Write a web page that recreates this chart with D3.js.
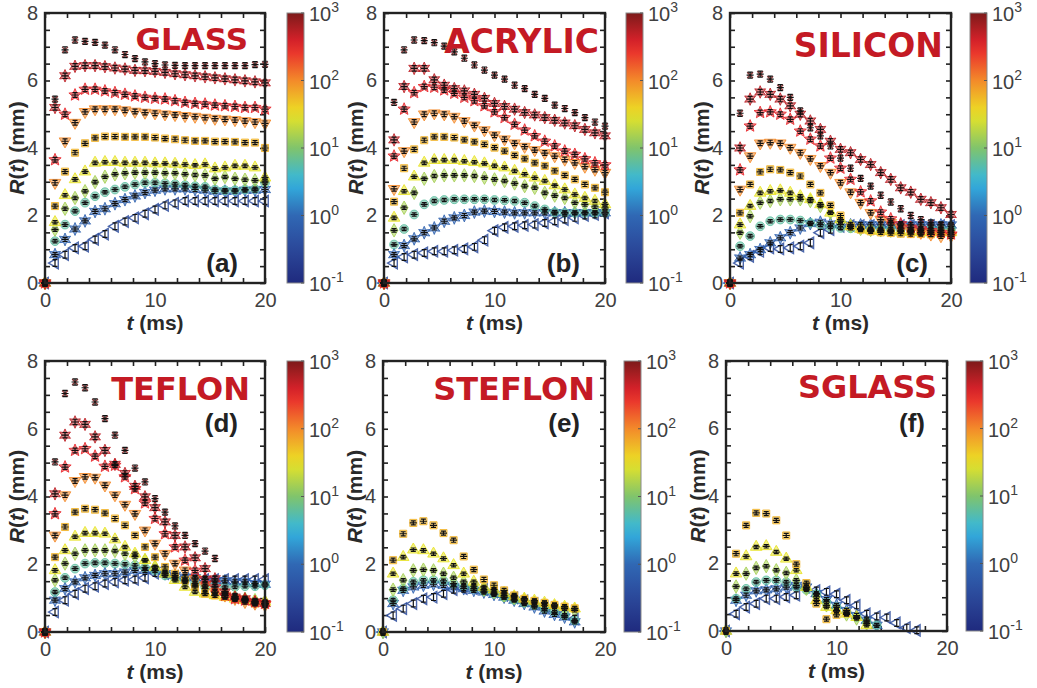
<!DOCTYPE html>
<html>
<head>
<meta charset="utf-8">
<script src="https://cdn.jsdelivr.net/npm/d3@7"></script>
<style>
  body { margin: 0; background: #fff; }
  svg { display: block; }
</style>
</head>
<body>
<script>
// frame times (ms), shared by every panel
const times = [0, 0.91, 1.82, 2.73, 3.64, 4.55, 5.45, 6.36, 7.27, 8.18, 9.09, 10,
  10.91, 11.82, 12.73, 13.64, 14.55, 15.45, 16.36, 17.27, 18.18, 19.09, 20];

// colour value of each series (colorbar units) and its error bar half-height (mm)
const seriesCa = [0.35, 0.8, 6, 15, 30, 60, 100, 300, 500, 1000];
const seriesErr = [0.1, 0.06, 0.05, 0.05, 0.05, 0.06, 0.07, 0.07, 0.08, 0.09];

// R(t) in mm, one row per series (lowest colour value first)
const glassR = [
  [0, 0.59, 0.84, 1.04, 1.09, 1.29, 1.45, 1.68, 1.82, 1.93, 2.05, 2.18, 2.3, 2.36, 2.43, 2.43, 2.43, 2.43, 2.43, 2.43, 2.43, 2.43, 2.43],
  [0, 0.84, 1.29, 1.6, 1.84, 2.12, 2.2, 2.35, 2.47, 2.58, 2.68, 2.75, 2.79, 2.79, 2.79, 2.77, 2.75, 2.72, 2.72, 2.72, 2.75, 2.75, 2.77],
  [0, 1.24, 1.73, 2.13, 2.38, 2.57, 2.69, 2.77, 2.85, 2.92, 2.97, 2.97, 2.95, 2.93, 2.9, 2.87, 2.85, 2.77, 2.75, 2.75, 2.77, 2.79, 2.97],
  [0, 1.58, 2.2, 2.52, 2.72, 2.99, 3.15, 3.22, 3.25, 3.27, 3.27, 3.27, 3.25, 3.25, 3.22, 3.2, 3.19, 3.09, 3.14, 3.09, 3.06, 3.04, 3.02],
  [0, 1.8, 2.6, 3.07, 3.3, 3.56, 3.58, 3.58, 3.56, 3.56, 3.56, 3.54, 3.54, 3.53, 3.51, 3.49, 3.51, 3.39, 3.42, 3.47, 3.47, 3.42, 3.12],
  [0, 2.28, 3.3, 3.86, 4.14, 4.3, 4.34, 4.34, 4.33, 4.33, 4.33, 4.31, 4.28, 4.26, 4.23, 4.21, 4.21, 4.19, 4.19, 4.18, 4.16, 4.16, 4.0],
  [0, 2.97, 4.2, 4.75, 5.07, 5.15, 5.15, 5.15, 5.12, 5.08, 5.05, 5.03, 5.0, 4.98, 4.95, 4.93, 4.9, 4.87, 4.85, 4.83, 4.8, 4.77, 4.73],
  [0, 3.65, 5.0, 5.57, 5.74, 5.74, 5.69, 5.64, 5.59, 5.54, 5.5, 5.47, 5.45, 5.4, 5.35, 5.32, 5.3, 5.27, 5.25, 5.23, 5.2, 5.2, 5.15],
  [0, 5.2, 6.14, 6.42, 6.44, 6.44, 6.41, 6.37, 6.34, 6.3, 6.29, 6.27, 6.24, 6.2, 6.17, 6.14, 6.11, 6.08, 6.05, 6.02, 5.99, 5.96, 5.93],
  [0, 5.45, 6.91, 7.2, 7.16, 7.13, 7.05, 6.91, 6.77, 6.65, 6.55, 6.5, 6.46, 6.45, 6.44, 6.44, 6.44, 6.44, 6.44, 6.44, 6.44, 6.47, 6.48]
];

const acrylicR = [
  [0, 0.59, 0.77, 0.84, 0.89, 0.94, 0.94, 0.97, 1.01, 1.07, 1.27, 1.55, 1.65, 1.68, 1.71, 1.73, 1.78, 1.83, 1.88, 1.93, 2.0, 2.03, 2.08],
  [0, 0.84, 1.11, 1.31, 1.49, 1.63, 1.83, 1.93, 2.0, 2.1, 2.13, 2.12, 2.1, 2.08, 2.08, 2.08, 2.08, 2.08, 2.08, 2.08, 2.08, 2.08, 2.08],
  [0, 1.14, 1.6, 2.03, 2.33, 2.43, 2.46, 2.48, 2.48, 2.48, 2.48, 2.46, 2.45, 2.43, 2.38, 2.28, 2.18, 2.1, 2.08, 2.08, 2.08, 2.08, 2.08],
  [0, 1.56, 2.23, 2.67, 3.09, 3.17, 3.19, 3.19, 3.19, 3.17, 3.12, 3.07, 3.02, 2.95, 2.87, 2.82, 2.67, 2.59, 2.52, 2.38, 2.33, 2.26, 2.23],
  [0, 1.93, 2.72, 3.15, 3.56, 3.64, 3.64, 3.64, 3.61, 3.58, 3.54, 3.47, 3.42, 3.32, 3.22, 3.12, 3.02, 2.89, 2.77, 2.62, 2.52, 2.43, 2.33],
  [0, 2.41, 3.4, 3.96, 4.23, 4.33, 4.33, 4.31, 4.24, 4.18, 4.11, 4.01, 3.91, 3.78, 3.68, 3.56, 3.47, 3.32, 3.19, 3.07, 2.92, 2.82, 2.69],
  [0, 2.79, 3.91, 4.77, 5.0, 5.03, 5.0, 4.93, 4.8, 4.67, 4.53, 4.38, 4.26, 4.14, 4.04, 3.94, 3.85, 3.76, 3.66, 3.56, 3.45, 3.36, 3.27],
  [0, 3.76, 5.15, 5.64, 5.82, 5.8, 5.72, 5.62, 5.5, 5.4, 5.25, 5.07, 4.9, 4.7, 4.53, 4.36, 4.2, 4.06, 3.91, 3.81, 3.68, 3.56, 3.5],
  [0, 4.24, 5.82, 6.36, 6.36, 6.02, 5.86, 5.76, 5.69, 5.59, 5.47, 5.32, 5.23, 5.15, 5.05, 4.98, 4.9, 4.82, 4.74, 4.66, 4.55, 4.45, 4.36],
  [0, 5.35, 6.91, 7.2, 7.18, 7.12, 7.02, 6.85, 6.66, 6.46, 6.31, 6.16, 6.04, 5.86, 5.76, 5.59, 5.47, 5.27, 5.17, 5.05, 4.9, 4.77, 4.65]
];

const siliconR = [
  [0, 0.59, 0.79, 0.94, 1.04, 1.01, 1.04, 1.09, 1.19, 1.49, 1.58, 1.68, 1.7, 1.7, 1.7, 1.7, 1.7, 1.7, 1.7, 1.7, 1.7, 1.7, 1.7],
  [0, 0.74, 0.84, 0.99, 1.19, 1.34, 1.49, 1.63, 1.76, 1.8, 1.75, 1.73, 1.72, 1.72, 1.72, 1.72, 1.72, 1.72, 1.72, 1.72, 1.72, 1.72, 1.72],
  [0, 1.09, 1.39, 1.68, 1.83, 1.88, 1.88, 1.85, 1.78, 1.72, 1.66, 1.63, 1.62, 1.61, 1.6, 1.6, 1.6, 1.6, 1.6, 1.6, 1.6, 1.6, 1.6],
  [0, 1.49, 1.98, 2.38, 2.43, 2.48, 2.48, 2.48, 2.43, 2.28, 2.08, 1.83, 1.68, 1.6, 1.57, 1.56, 1.55, 1.55, 1.55, 1.55, 1.55, 1.55, 1.55],
  [0, 1.73, 2.28, 2.67, 2.72, 2.74, 2.67, 2.57, 2.48, 2.33, 2.08, 1.88, 1.68, 1.6, 1.56, 1.54, 1.53, 1.52, 1.51, 1.5, 1.5, 1.5, 1.5],
  [0, 2.08, 2.92, 3.29, 3.37, 3.35, 3.27, 3.17, 2.92, 2.67, 2.3, 2.0, 1.68, 1.58, 1.53, 1.5, 1.48, 1.46, 1.45, 1.45, 1.44, 1.44, 1.43],
  [0, 2.77, 3.76, 4.14, 4.16, 4.14, 4.01, 3.86, 3.68, 3.47, 3.27, 2.97, 2.69, 2.38, 2.08, 1.88, 1.78, 1.63, 1.53, 1.49, 1.44, 1.39, 1.39],
  [0, 3.35, 4.65, 5.05, 5.07, 5.0, 4.85, 4.5, 4.26, 4.06, 3.7, 3.4, 3.07, 2.7, 2.43, 2.1, 1.9, 1.75, 1.65, 1.6, 1.55, 1.5, 1.45],
  [0, 4.0, 5.45, 5.66, 5.59, 5.45, 5.25, 5.0, 4.8, 4.55, 4.2, 3.96, 3.86, 3.66, 3.51, 3.27, 3.07, 2.82, 2.69, 2.48, 2.38, 2.23, 2.03],
  [0, 5.03, 6.16, 6.19, 6.04, 5.79, 5.5, 5.1, 4.6, 4.36, 4.06, 3.7, 3.4, 3.1, 2.87, 2.6, 2.4, 2.2, 2.0, 1.88, 1.78, 1.72, 1.68]
];

const teflonR = [
  [0, 0.59, 0.94, 1.13, 1.28, 1.35, 1.43, 1.48, 1.53, 1.55, 1.6, 1.74, 1.72, 1.64, 1.6, 1.57, 1.55, 1.55, 1.55, 1.55, 1.55, 1.55, 1.55],
  [0, 0.94, 1.28, 1.48, 1.6, 1.67, 1.72, 1.72, 1.77, 1.82, 1.82, 1.82, 1.72, 1.67, 1.62, 1.6, 1.55, 1.51, 1.51, 1.48, 1.48, 1.43, 1.41],
  [0, 1.18, 1.6, 1.87, 2.02, 2.04, 2.04, 2.02, 2.0, 1.97, 1.9, 1.82, 1.67, 1.6, 1.53, 1.43, 1.35, 1.35, 1.33, 1.33, 1.35, 1.35, 1.38],
  [0, 1.53, 2.02, 2.31, 2.41, 2.41, 2.41, 2.39, 2.31, 2.23, 2.12, 1.92, 1.77, 1.62, 1.48, 1.38, 1.28, 1.18, 1.13, 1.03, 0.98, 0.94, 0.89],
  [0, 1.82, 2.41, 2.81, 2.92, 2.92, 2.9, 2.73, 2.51, 2.31, 2.12, 1.92, 1.72, 1.53, 1.33, 1.18, 1.13, 1.08, 1.03, 0.98, 0.94, 0.89, 0.89],
  [0, 2.21, 3.1, 3.54, 3.64, 3.61, 3.51, 3.35, 3.15, 2.85, 2.51, 2.21, 1.92, 1.72, 1.53, 1.33, 1.13, 1.08, 1.03, 0.98, 0.94, 0.84, 0.84],
  [0, 2.85, 4.04, 4.46, 4.58, 4.56, 4.33, 4.04, 3.76, 3.49, 3.0, 2.61, 2.31, 2.02, 1.82, 1.57, 1.38, 1.18, 1.08, 0.98, 0.89, 0.84, 0.79],
  [0, 3.49, 4.87, 5.36, 5.41, 5.19, 4.89, 4.92, 4.58, 4.23, 3.81, 3.35, 2.9, 2.51, 2.12, 1.82, 1.57, 1.33, 1.08, 0.98, 0.94, 0.89, 0.84],
  [0, 4.08, 5.81, 6.2, 6.13, 5.76, 5.36, 4.95, 4.68, 4.3, 3.99, 3.67, 3.25, 2.85, 2.51, 2.19, 1.87, 1.57, 1.18, 1.03, 0.98, 0.89, 0.84],
  [0, 5.02, 7.04, 7.38, 7.21, 6.79, 6.3, 5.81, 5.36, 4.84, 4.43, 3.94, 3.54, 3.13, 2.85, 2.61, 2.39, 2.17, 1.2, 1.05, 0.95, 0.88, 0.82]
];

const steflonR = [
  [0, 0.49, 0.69, 0.84, 0.98, 1.03, 1.13, 1.25, 1.28, 1.28, 1.25, 1.18, 1.08, 1.01, 0.92, 0.84, 0.74, 0.64, 0.54, 0.39],
  [0, 0.84, 1.23, 1.33, 1.38, 1.41, 1.38, 1.33, 1.28, 1.23, 1.18, 1.11, 1.03, 0.94, 0.84, 0.74, 0.62, 0.52, 0.44, 0.3],
  [0, 0.94, 1.28, 1.48, 1.53, 1.53, 1.51, 1.43, 1.35, 1.28, 1.21, 1.13, 1.03, 0.95, 0.86, 0.79, 0.69, 0.59, 0.49, 0.34],
  [0, 1.25, 1.53, 1.82, 1.84, 1.82, 1.72, 1.6, 1.48, 1.35, 1.25, 1.18, 1.08, 1.01, 0.94, 0.86, 0.79, 0.74, 0.69, 0.64],
  [0, 1.72, 2.21, 2.43, 2.41, 2.31, 2.17, 1.97, 1.72, 1.48, 1.33, 1.25, 1.15, 1.05, 0.98, 0.92, 0.86, 0.79, 0.74, 0.69],
  [0, 2.12, 2.9, 3.22, 3.27, 3.15, 2.92, 2.71, 2.23, 1.84, 1.55, 1.38, 1.23, 1.08, 0.98, 0.92, 0.86, 0.8, 0.75, 0.7]
];

const sglassR = [
  [0, 0.51, 0.71, 0.81, 0.96, 0.96, 1.01, 1.06, 1.3, 1.2, 1.16, 1.09, 0.91, 0.76, 0.51, 0.43, 0.4, 0.24, 0.1, 0.02],
  [0, 0.91, 1.06, 1.19, 1.22, 1.25, 1.3, 1.35, 1.3, 1.11, 0.93, 0.76, 0.61, 0.46, 0.32, 0.17],
  [0, 0.96, 1.25, 1.45, 1.5, 1.5, 1.45, 1.3, 1.22, 1.09, 0.86, 0.71, 0.56, 0.41, 0.27, 0.17],
  [0, 1.32, 1.7, 1.87, 1.92, 1.8, 1.72, 1.5, 1.25, 1.01, 0.76, 0.59, 0.49, 0.37, 0.22],
  [0, 1.7, 2.21, 2.49, 2.51, 2.34, 2.14, 1.8, 1.3, 0.91, 0.71, 0.61, 0.51, 0.41, 0.17],
  [0, 2.29, 3.13, 3.5, 3.48, 3.28, 2.83, 1.98, 1.42, 0.81, 0.35, 0.48, 0.53]
];

const xTickLabels = [0, 10, 20];
const yTickLabels = [0, 2, 4, 6, 8];
const cbExponents = [-1, 0, 1, 2, 3];

const width = 1037, height = 688;

const svg = d3.select("body").append("svg")
  .attr("width", width)
  .attr("height", height)
  .attr("font-family", "'Liberation Sans', Arial, sans-serif");

// muted jet, as on the colorbars
const jetColors = ["#1f2a7e", "#2b489a", "#3068b4", "#33b6e2", "#80c46c",
  "#ece424", "#f38a2a", "#e8232d", "#7d1a1a"];
const color = d3.scaleSequentialLog(d3.piecewise(d3.interpolateRgb, jetColors))
  .domain([0.1, 1000]);

function starType(points, inner) {
  return {
    draw(ctx, size) {
      const r = Math.sqrt(size) * 0.72;
      for (let i = 0; i < points * 2; i++) {
        const a = Math.PI * i / points - Math.PI / 2;
        const rr = i % 2 ? r * inner : r;
        if (i === 0) ctx.moveTo(rr * Math.cos(a), rr * Math.sin(a));
        else ctx.lineTo(rr * Math.cos(a), rr * Math.sin(a));
      }
      ctx.closePath();
    }
  };
}

const crossType = {
  draw(ctx, size) {
    const r = Math.sqrt(size) * 0.42;
    ctx.moveTo(-r, -r); ctx.lineTo(r, r);
    ctx.moveTo(r, -r); ctx.lineTo(-r, r);
  }
};

const markers = [
  { type: d3.symbolTriangle, size: 55, rot: -90, open: true },
  { type: starType(6, 0.5), size: 80, rot: 0 },
  { type: d3.symbolCircle, size: 60, rot: 0 },
  { type: d3.symbolDiamond, size: 52, rot: 0 },
  { type: d3.symbolTriangle, size: 58, rot: 0 },
  { type: d3.symbolSquare, size: 50, rot: 0 },
  { type: d3.symbolTriangle, size: 58, rot: 180 },
  { type: starType(5, 0.45), size: 80, rot: 0 },
  { type: starType(6, 0.5), size: 76, rot: 0 },
  { type: crossType, size: 48, rot: 0, open: true }
];

const panels = [
  { name: "GLASS", letter: "(a)", data: glassR, left: 45, right: 265, top: 13, bottom: 283, cb: 287, titleSize: 31, titleX: 248, titleY: 50, letterX: 238, letterY: 272 },
  { name: "ACRYLIC", letter: "(b)", data: acrylicR, left: 384, right: 605, top: 13, bottom: 283, cb: 626, titleSize: 33, titleX: 599, titleY: 53, letterX: 580, letterY: 272 },
  { name: "SILICON", letter: "(c)", data: siliconR, left: 730, right: 951, top: 13, bottom: 283, cb: 970, titleSize: 33, titleX: 943, titleY: 57, letterX: 928, letterY: 272 },
  { name: "TEFLON", letter: "(d)", data: teflonR, left: 45, right: 265, top: 361, bottom: 632, cb: 287, titleSize: 32, titleX: 250, titleY: 400, letterX: 238, letterY: 432 },
  { name: "STEFLON", letter: "(e)", data: steflonR, left: 383, right: 605, top: 361, bottom: 632, cb: 624, titleSize: 32, titleX: 595, titleY: 400, letterX: 580, letterY: 432 },
  { name: "SGLASS", letter: "(f)", data: sglassR, left: 726, right: 947, top: 361, bottom: 631, cb: 966, titleSize: 32, titleX: 937, titleY: 398, letterX: 925, letterY: 432 }
];

const cbWidth = 17;

// gradient for the colorbars
const grad = svg.append("defs").append("linearGradient")
  .attr("id", "jet").attr("x1", 0).attr("y1", 1).attr("x2", 0).attr("y2", 0);
grad.selectAll("stop")
  .data(d3.range(0, 1.0001, 0.05))
  .join("stop")
  .attr("offset", d => d)
  .attr("stop-color", d => color(Math.pow(10, -1 + 4 * d)));

function styleAxis(g) {
  g.select(".domain").remove();
  g.selectAll(".tick line").attr("stroke", "#222").attr("stroke-width", 1.6);
  g.selectAll(".tick text")
    .attr("fill", "#404040")
    .attr("font-size", 20)
    .attr("font-family", "'Liberation Sans', Arial, sans-serif");
}

function drawPanel(p) {
  const x = d3.scaleLinear().domain([0, 20]).range([p.left, p.right]);
  const y = d3.scaleLinear().domain([0, 8]).range([p.bottom, p.top]);
  const g = svg.append("g");

  const xTicks = d3.range(0, 20.01, 2);
  const yTicks = d3.range(0, 8.01, 0.5);

  g.append("g").attr("transform", `translate(0,${p.bottom})`)
    .call(d3.axisBottom(x).tickValues(xTicks).tickSize(-5).tickPadding(10)
      .tickFormat(d => xTickLabels.includes(d) ? d : ""))
    .call(styleAxis);
  g.append("g").attr("transform", `translate(0,${p.top})`)
    .call(d3.axisTop(x).tickValues(xTicks).tickSize(-5).tickFormat(""))
    .call(styleAxis);
  g.append("g").attr("transform", `translate(${p.left},0)`)
    .call(d3.axisLeft(y).tickValues(yTicks).tickSize(-5).tickPadding(7)
      .tickFormat(d => yTickLabels.includes(d) ? d : ""))
    .call(styleAxis);
  g.append("g").attr("transform", `translate(${p.right},0)`)
    .call(d3.axisRight(y).tickValues(yTicks).tickSize(-5).tickFormat(""))
    .call(styleAxis);

  // markers
  p.data.forEach((row, i) => {
    const m = markers[i];
    const c = color(seriesCa[i]);
    const pts = row.map((v, k) => ({ t: times[k], v }));
    g.append("g")
      .selectAll("path")
      .data(pts)
      .join("path")
      .attr("transform", d => `translate(${x(d.t)},${y(d.v)}) rotate(${m.rot})`)
      .attr("d", d3.symbol(m.type, m.size))
      .attr("fill", m.open ? "none" : c)
      .attr("fill-opacity", 0.55)
      .attr("stroke", c)
      .attr("stroke-opacity", 0.85)
      .attr("stroke-width", m.open ? 1.4 : 1);
  });

  // error bars and black crosses
  p.data.forEach((row, i) => {
    const e = seriesErr[i];
    const pts = row.map((v, k) => ({ t: times[k], v }));
    g.append("g")
      .selectAll("path")
      .data(pts)
      .join("path")
      .attr("d", d => {
        const cx = x(d.t), cy = y(d.v), y1 = y(d.v - e), y2 = y(d.v + e);
        let s = `M${cx},${y1}V${y2}M${cx - 2.5},${y1}h5M${cx - 2.5},${y2}h5`;
        if (i > 0) s += `M${cx - 3.5},${cy}h7`;
        return s;
      })
      .attr("fill", "none")
      .attr("stroke", "#111")
      .attr("stroke-width", 1.2);
  });

  // frame
  g.append("rect")
    .attr("x", p.left).attr("y", p.top)
    .attr("width", p.right - p.left).attr("height", p.bottom - p.top)
    .attr("fill", "none").attr("stroke", "#222").attr("stroke-width", 2.4);

  // title and letter
  g.append("text")
    .attr("x", p.titleX).attr("y", p.titleY)
    .attr("text-anchor", "end")
    .attr("font-family", "'DejaVu Sans', Verdana, sans-serif")
    .attr("font-weight", "bold")
    .attr("font-size", p.titleSize)
    .attr("fill", "#c41a24")
    .text(p.name);
  g.append("text")
    .attr("x", p.letterX).attr("y", p.letterY)
    .attr("text-anchor", "end")
    .attr("font-weight", "bold")
    .attr("font-size", 26)
    .attr("fill", "#222")
    .text(p.letter);

  // axis labels
  const xl = g.append("text")
    .attr("x", (p.left + p.right) / 2).attr("y", p.bottom + 47)
    .attr("text-anchor", "middle")
    .attr("font-weight", "bold").attr("font-size", 21).attr("fill", "#2a2a2a");
  xl.append("tspan").attr("font-style", "italic").text("t");
  xl.append("tspan").text(" (ms)");

  const yl = g.append("text")
    .attr("transform", `translate(${p.left - 28},${(p.top + p.bottom) / 2}) rotate(-90)`)
    .attr("dy", "0.35em")
    .attr("text-anchor", "middle")
    .attr("font-weight", "bold").attr("font-size", 21).attr("fill", "#2a2a2a");
  yl.append("tspan").attr("font-style", "italic").text("R");
  yl.append("tspan").text("(");
  yl.append("tspan").attr("font-style", "italic").text("t");
  yl.append("tspan").text(") (mm)");

  // colorbar
  const cy = d3.scaleLog().domain([0.1, 1000]).range([p.bottom, p.top]);
  g.append("rect")
    .attr("x", p.cb).attr("y", p.top)
    .attr("width", cbWidth).attr("height", p.bottom - p.top)
    .attr("fill", "url(#jet)")
    .attr("stroke", "#8a8a8a").attr("stroke-width", 1);
  g.append("g")
    .selectAll("line")
    .data(cbExponents)
    .join("line")
    .attr("x1", p.cb + cbWidth - 3).attr("x2", p.cb + cbWidth)
    .attr("y1", d => cy(Math.pow(10, d))).attr("y2", d => cy(Math.pow(10, d)))
    .attr("stroke", "#555").attr("stroke-width", 1);
  const lab = g.append("g")
    .selectAll("text")
    .data(cbExponents)
    .join("text")
    .attr("x", p.cb + cbWidth + 5)
    .attr("y", d => cy(Math.pow(10, d)) + 8)
    .attr("font-size", 20)
    .attr("fill", "#404040");
  lab.append("tspan").text("10");
  lab.append("tspan").attr("dy", -9).attr("font-size", 14).text(d => d);
}

panels.forEach(drawPanel);
</script>
</body>
</html>
